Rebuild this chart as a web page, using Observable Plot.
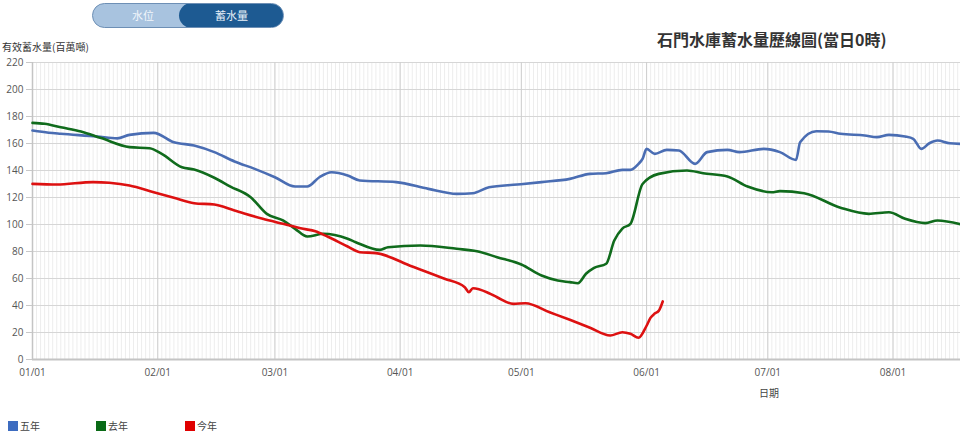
<!DOCTYPE html>
<html>
<head>
<meta charset="utf-8">
<script src="https://cdn.jsdelivr.net/npm/d3@7"></script>
<script src="https://cdn.jsdelivr.net/npm/@observablehq/plot@0.6"></script>
<style>
  html, body { margin: 0; padding: 0; background: #fff; }
  body { width: 960px; height: 437px; position: relative; overflow: hidden;
         font-family: "Noto Sans CJK TC", "Noto Sans", sans-serif; color: #333; }
  .abs { position: absolute; white-space: nowrap; }
  #toggle { left: 92px; top: 3px; width: 192px; height: 25px; border-radius: 13px;
            background: #a8c3df; border: 1px solid #6d8fb5; box-sizing: border-box; overflow: hidden; }
  #toggle .on { position: absolute; right: -1px; top: -1px; width: 105px; height: 25px; border-radius: 13px;
                background: #1d5a92; color: #e8f0f8; font-size: 11px; line-height: 25px; text-align: center; }
  #toggle .off { position: absolute; left: 0; top: 0; width: 100px; height: 23px; color: #f2f6fb;
                 font-size: 11px; line-height: 23px; text-align: center; }
  #chart { left: 0; top: 50px; }
  .leg { font-size: 10px; line-height: 12px; color: #444; top: 420px; }
  .sw { display: inline-block; width: 10px; height: 10px; vertical-align: -1px; margin-right: 2px; }
</style>
</head>
<body>
<div id="toggle" class="abs"><div class="off">水位</div><div class="on">蓄水量</div></div>
<div class="abs" style="left:657px; top:29px; font-size:16px; line-height:20px; font-weight:bold; color:#333;">石門水庫蓄水量歷線圖(當日0時)</div>
<div class="abs" style="left:2px; top:41px; font-size:10px; line-height:11px; color:#333;">有效蓄水量(百萬噸)</div>
<div id="chart" class="abs"></div>
<div class="abs" style="left:759px; top:387px; font-size:10px; line-height:12px; color:#444;">日期</div>
<div class="abs leg" style="left:8px;"><span class="sw" style="background:#3d6cc0"></span>五年</div>
<div class="abs leg" style="left:96px;"><span class="sw" style="background:#0a6a16"></span>去年</div>
<div class="abs leg" style="left:185px;"><span class="sw" style="background:#e00000"></span>今年</div>
<script>
// ---- data ----
const seriesNames = ["五年", "去年", "今年"];
const seriesColors = ["#4a6db3", "#106b1c", "#dd1111"];
const yTicks = [0, 20, 40, 60, 80, 100, 120, 140, 160, 180, 200, 220];

const fiveYearDates = ["01-01","01-05","01-08","01-17","01-22","01-25","01-31","02-05","02-10","02-15","02-20","02-25","03-01","03-06","03-09","03-12","03-15","03-19","03-22","03-31","04-08","04-15","04-19","04-23","04-30","05-06","05-13","05-18","05-22","05-26","05-28","05-30","05-31","06-01","06-03","06-06","06-09","06-13","06-16","06-21","06-24","06-30","07-04","07-08","07-09","07-13","07-16","07-19","07-25","07-28","07-31","08-04","08-06","08-08","08-10","08-12","08-15","08-18"];
const fiveYearValues = [169.6,168,167.2,165.2,163.8,166.4,167.9,161,158.5,153.6,146.7,141.2,135,128.1,128.1,135,138.7,136.3,132.6,131.4,126.4,122.7,123.2,127.6,129.6,131.4,133.8,137.5,138,140.5,140.5,144.9,148.6,156,152.3,155.3,154.8,144.9,153.6,155.3,153.6,156,153.6,147.9,161,169.1,168.9,167.2,165.9,164.7,166.4,165.2,163.5,156,160.2,162.2,160.2,159.7];

const lastYearDates = ["01-01","01-04","01-08","01-13","01-18","01-25","01-30","02-02","02-07","02-10","02-15","02-19","02-24","02-28","03-03","03-06","03-09","03-13","03-19","03-21","03-27","03-29","04-06","04-15","04-20","04-25","05-01","05-06","05-10","05-13","05-15","05-17","05-19","05-22","05-24","05-26","05-28","05-31","06-04","06-11","06-15","06-21","06-26","07-02","07-04","07-10","07-19","07-26","07-31","08-04","08-09","08-12","08-18"];
const lastYearValues = [175.3,174.6,172,168.9,164,157.3,156.5,152.3,142.4,140.7,134.6,128.1,120.2,107.9,103,96.8,91.1,93.1,89.4,86.9,81.2,83.2,84.4,82,80.2,75.8,70.4,62.2,58.5,57.3,56.5,63.5,67.9,70.9,88.1,97,100.5,130,137.5,140,138,135.6,128.1,123.9,124.7,123.2,112.4,107.9,109.1,104.2,101,103,100];

const thisYearDates = ["01-01","01-07","01-16","01-20","01-25","01-31","02-05","02-10","02-15","02-20","02-27","03-03","03-08","03-11","03-14","03-19","03-22","03-26","04-04","04-12","04-17","04-18","04-19","04-23","04-25","04-29","05-02","05-08","05-13","05-18","05-23","05-26","05-28","05-30","06-01","06-02","06-03","06-04","06-05"];
const thisYearValues = [130.1,129.6,131.4,130.9,128.9,123.9,119.8,115.8,114.8,110.4,104.2,100.5,96.8,95,91.1,83.7,79.5,78.8,68.9,59.8,53.6,49.9,52.8,49.1,46.1,41.2,41.7,35,29.4,23.5,17.8,20.2,19,16.1,25,31,34,36,43];

// ---- build table ----
const year = 2024;
const parse = d3.utcParse("%Y-%m-%d");
const rows = [];
[[fiveYearDates, fiveYearValues], [lastYearDates, lastYearValues], [thisYearDates, thisYearValues]]
  .forEach(([ds, vs], i) => ds.forEach((d, j) => rows.push({series: seriesNames[i], date: parse(`${year}-${d}`), value: vs[j]})));

const start = new Date(Date.UTC(year, 0, 1));
const end = new Date(start.getTime() + 229.7 * 864e5);
const days = d3.utcDay.range(start, end);
const months = d3.utcMonth.range(start, end);

const chart = Plot.plot({
  width: 960,
  height: 350,
  marginTop: 12,
  marginBottom: 41,
  marginLeft: 32,
  marginRight: 0,
  style: {fontFamily: "'Open Sans', 'Noto Sans', sans-serif", fontSize: "10px", color: "#555", background: "transparent"},
  x: {type: "utc", domain: [start, end], ticks: months, tickFormat: d3.utcFormat("%m/%d"), tickSize: 0, tickPadding: 8, label: null},
  y: {domain: [0, 220], ticks: yTicks, tickSize: 6, tickPadding: 4, label: null},
  color: {domain: seriesNames, range: seriesColors},
  marks: [
    Plot.ruleX(days, {stroke: "#ededed", strokeWidth: 1}),
    Plot.ruleY(yTicks, {stroke: "#d6d6d6", strokeWidth: 1}),
    Plot.ruleX(months, {stroke: "#cfcfcf", strokeWidth: 1}),
    Plot.ruleX([start], {stroke: "#c4c4c4", strokeWidth: 1.5}),
    Plot.ruleY([0], {stroke: "#c4c4c4", strokeWidth: 2}),
    Plot.axisY({ticks: yTicks, tickSize: 6, tickPadding: 3, stroke: "#c8c8c8", fill: "#555", fontSize: 10}),
    Plot.axisX({ticks: months, tickFormat: d3.utcFormat("%m/%d"), tickSize: 0, tickPadding: 9, fill: "#555", fontSize: 10}),
    Plot.lineY(rows, {x: "date", y: "value", z: "series", stroke: "series", strokeWidth: 2.6, curve: "monotone-x"})
  ]
});
document.getElementById("chart").appendChild(chart);
</script>
</body>
</html>
